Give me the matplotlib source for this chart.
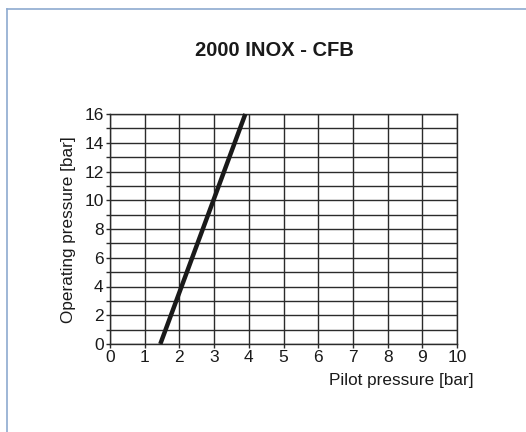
import matplotlib
matplotlib.use("Agg")
import matplotlib.pyplot as plt
from matplotlib.lines import Line2D

plt.rcParams["font.family"] = ["Liberation Sans", "DejaVu Sans"]

title = "2000 INOX - CFB"
pilot_pressure = [1.45, 3.9]
operating_pressure = [0, 16]
x_ticks = list(range(0, 11))
y_ticks = list(range(0, 17, 2))

fig = plt.figure(figsize=(5.26, 4.32), dpi=100)
fig.patch.set_facecolor("white")

# light blue frame (left and top edges visible)
fig.add_artist(Line2D([7 / 526, 7 / 526], [0, 1 - 9 / 432], color="#8eaad0", lw=1.2))
fig.add_artist(Line2D([7 / 526, 1], [1 - 9 / 432, 1 - 9 / 432], color="#8eaad0", lw=1.2))

ax = fig.add_axes([110 / 526, 88 / 432, 347 / 526, 230 / 432])
ax.set_xlim(0, 10)
ax.set_ylim(0, 16)

grid_c = "#2b2b2b"
ax.set_xticks(x_ticks)
ax.set_yticks(y_ticks)
ax.set_yticks(range(0, 17), minor=True)
ax.grid(True, which="both", color=grid_c, lw=1.0)
for s in ax.spines.values():
    s.set_color(grid_c)
    s.set_linewidth(1.0)
ax.tick_params(which="both", direction="out", length=3, width=1.0, color=grid_c,
               labelsize=12.5, labelcolor="#1a1a1a", pad=1.5)

ax.plot(pilot_pressure, operating_pressure, color="#1a1a1a", lw=3.2,
        solid_capstyle="butt", clip_on=False, zorder=3)

fig.text(274 / 526, 1 - 51 / 432, title, ha="center", va="center", fontsize=14.5,
         fontweight="bold", color="#1a1a1a")
fig.text(474 / 526, 1 - 380 / 432, "Pilot pressure [bar]", ha="right", va="center",
         fontsize=12.3, color="#1a1a1a")
fig.text(69 / 526, 1 - 230 / 432, "Operating pressure [bar]", ha="center", va="center",
         rotation=90, fontsize=12.3, color="#1a1a1a")

fig.savefig("out.png", dpi=100, facecolor="white")
